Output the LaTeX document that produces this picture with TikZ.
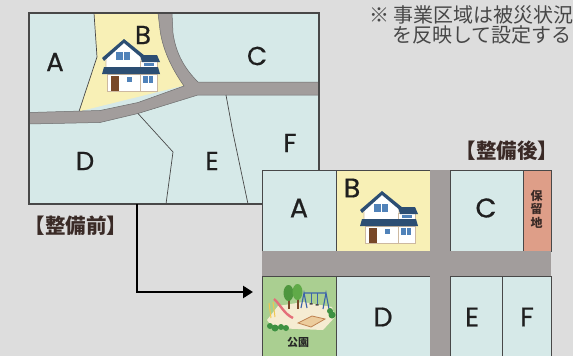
\documentclass[tikz,border=0pt]{standalone}
\usepackage{fontspec}
\newfontfamily\lotfont{Poppins}[FakeBold=0.6]
\newfontfamily\jpfont{Noto Sans CJK JP}
\usetikzlibrary{arrows.meta,positioning}

\definecolor{hintergrund}{RGB}{221,221,221}
\definecolor{flaeche}{RGB}{214,233,232}
\definecolor{strasse}{RGB}{162,157,156}
\definecolor{gelb}{RGB}{248,240,182}
\definecolor{lachs}{RGB}{222,158,136}
\definecolor{parkgruen}{RGB}{170,207,145}
\definecolor{linie}{RGB}{72,72,72}
\definecolor{dach}{RGB}{44,78,115}
\definecolor{fenster}{RGB}{80,130,185}
\definecolor{tuer}{RGB}{120,72,40}
\definecolor{wand}{RGB}{205,185,160}
\definecolor{schrift}{RGB}{58,42,38}
\definecolor{boden}{RGB}{245,236,210}
\definecolor{baum}{RGB}{78,150,62}
\definecolor{baumhell}{RGB}{96,170,72}
\definecolor{schaukel}{RGB}{60,100,170}
\definecolor{rutsche}{RGB}{228,112,122}
\definecolor{leiter}{RGB}{240,200,80}
\definecolor{sand}{RGB}{236,204,156}
\definecolor{sandrand}{RGB}{190,130,80}
\definecolor{busch}{RGB}{62,145,66}

% house icon, origin = top left corner
\tikzset{pics/haus/.style={code={
  \filldraw[fill=white,draw=wand,line width=.6] (4,17) -- (22,3) -- (39,16) -- (39,29) -- (4,29) -- cycle;
  \filldraw[fill=white,draw=wand,line width=.6] (38,22) rectangle (55,29);
  \filldraw[fill=white,draw=wand,line width=.6] (5,35) rectangle (55,52);
  \draw[wand,line width=.6] (38,35) -- (38,52);
  \fill[dach] (0,19) -- (22,0) -- (43,17) -- (41,20) -- (22,4) -- (2,22) -- cycle;
  \fill[dach] (38,16) -- (55,16) -- (58,23) -- (40,23) -- cycle;
  \fill[dach] (2,28) -- (56,28) -- (58,35) -- (0,35) -- cycle;
  \fill[fenster] (14,13) rectangle (28,21);
  \draw[white,line width=1] (21,13) -- (21,21);
  \fill[fenster] (42,24) rectangle (52,27);
  \fill[tuer] (9,37) rectangle (17,52);
  \fill[fenster] (25,38) rectangle (30,43);
  \fill[fenster] (41,37) rectangle (51,44);
  \draw[white,line width=1] (46,37) -- (46,44);
}}}

% park icon, origin = top left corner of the lot
\tikzset{pics/spielplatz/.style={code={
  \fill[boden] (5,44) -- (16,30) -- (41,26) -- (70,31) -- (73,41) -- (61,54) -- (11,52) -- cycle;
  % trees
  \fill[tuer] (25.5,20) rectangle (27.5,33);
  \fill[tuer] (34.5,19) rectangle (36.5,33);
  \fill[baum] (26.5,17) ellipse (5 and 8);
  \fill[baumhell] (35.5,16) ellipse (5 and 8);
  % swing
  \draw[schaukel,line width=1.1] (39,32) -- (42,17) -- (45,32) (42,17) -- (64,17) (61,33) -- (64,17) -- (67,33);
  \draw[schaukel,line width=.5] (49,17) -- (49,27) (55,17) -- (55,28);
  \fill[linie] (47.5,27) rectangle (50.5,28.5) (53.5,28) rectangle (56.5,29.5);
  % slide
  \draw[leiter,line width=1] (7,27) -- (9,42) (11,26) -- (13,41);
  \draw[rutsche,line width=2.4] (12,23) .. controls (18,28) and (22,38) .. (31,42);
  % sandbox
  \filldraw[fill=sand,draw=sandrand,line width=.8] (36,47) -- (50,40) -- (63,43) -- (49,51) -- cycle;
  % bushes
  \fill[busch] (8,50) circle (3) (13,52) circle (3.5) (19,51) circle (3) (24,52) circle (3);
  \fill[busch] (70,39) circle (3.5) (68,35) circle (3);
}}}

\begin{document}
\begin{tikzpicture}[x=1pt,y=-1pt,
    lot/.style={fill=flaeche, draw=linie, line width=.8},
    road/.style={fill=strasse},
    grenze/.style={draw=linie, line width=.7},
    letter/.style={text=black!88, font=\lotfont\fontsize{26}{30}\selectfont, inner sep=0pt},
    titel/.style={text=schrift, font=\jpfont\bfseries\fontsize{20.5}{22}\selectfont, inner sep=0pt},
    hinweis/.style={text=black!72, font=\jpfont\fontsize{20}{22}\selectfont, inner sep=0pt, anchor=west},
    pfeil/.style={-{Triangle[length=10pt,width=12pt]}, line width=2.6, black}]

\useasboundingbox (0,0) rectangle (573,356);
\clip (0,0) rectangle (573,356);
\fill[hintergrund] (0,0) rectangle (573,356);

%%% before
\fill[flaeche] (29,13) rectangle (319,204);
\fill[gelb] (94,13) -- (97,57) -- (79,111.5) -- (186,85) -- (160,30) -- (158,13) -- cycle;
\draw[grenze] (94,13) -- (97,57) -- (79,111.5);
\pic at (102,39) {haus};
\filldraw[road, draw=linie!80, line width=.5] (29,112.5) -- (100,110.5) -- (138,102.5) -- (184,86)
  .. controls (174,72) and (163,52) .. (160,30) -- (158,13) -- (172,13) -- (173,33)
  .. controls (176,55) and (186,70) .. (198,82) -- (319,82) -- (319,95) -- (198,95)
  -- (138,113.5) -- (100,122.5) -- (29,124) -- cycle;
\draw[grenze] (138,113.5) -- (173,152) -- (166,204);
\draw[grenze] (226,95) -- (233,133) -- (248,204);
\draw[linie, line width=1.2] (29,13) rectangle (319,204);

\node[letter] (a0) at (55,62) {A};
\node[letter] (b0) at (143,35) {B};
\node[letter] (c0) at (257,56) {C};
\node[letter] (d0) at (85,161) {D};
\node[letter] (e0) at (212,161) {E};
\node[letter] (f0) at (290,143) {F};
\node[titel] (vor) at (76,226) {【整備前】};

%%% after
\filldraw[lot] (262,170) rectangle (336,251);
\filldraw[lot, fill=gelb] (336,170) rectangle (430,251);
\filldraw[lot] (450,170) rectangle (523,251);
\filldraw[lot, fill=lachs] (523,170) rectangle (551,251);
\filldraw[lot, fill=parkgruen] (262,276) rectangle (336,362);
\filldraw[lot] (336,276) rectangle (430,362);
\filldraw[lot] (450,276) rectangle (502,362);
\filldraw[lot] (502,276) rectangle (551,362);
\fill[road] (262,251) rectangle (551,276);
\fill[road] (430,170) rectangle (450,362);

\pic at (360,191) {haus};
\pic at (262,276) {spielplatz};

\node[letter, font=\lotfont\fontsize{27}{30}\selectfont] (a1) at (299,208) {A};
\node[letter, font=\lotfont\fontsize{27}{30}\selectfont] (b1) at (352,188) {B};
\node[letter, font=\lotfont\fontsize{27}{30}\selectfont] (c1) at (486,208) {C};
\node[letter, font=\lotfont\fontsize{27}{30}\selectfont] (d1) at (383,317) {D};
\node[letter, font=\lotfont\fontsize{27}{30}\selectfont] (e1) at (472,317) {E};
\node[letter, font=\lotfont\fontsize{27}{30}\selectfont] (f1) at (527,317) {F};
\node[text=schrift, font=\jpfont\bfseries\fontsize{12}{13.5}\selectfont, align=center, inner sep=0pt] (hoji) at (536.5,209) {保\\留\\地};
\node[text=black!85, font=\jpfont\bfseries\fontsize{11}{12}\selectfont, inner sep=0pt] (koen) at (298,342) {公園};
\node[titel] (nach) at (507,151) {【整備後】};

% arrow from the old plan to the new one
\coordinate (vorher) at (137,204);
\coordinate (nachher) at (253,292);
\draw[pfeil] (vorher) |- (nachher);

% note, top right (runs past the edge)
\node[hinweis] (zeile1) at (369,15) {※ 事業区域は被災状況};
\node[hinweis] (zeile2) at (392,35) {を反映して設定する};

\end{tikzpicture}
\end{document}
